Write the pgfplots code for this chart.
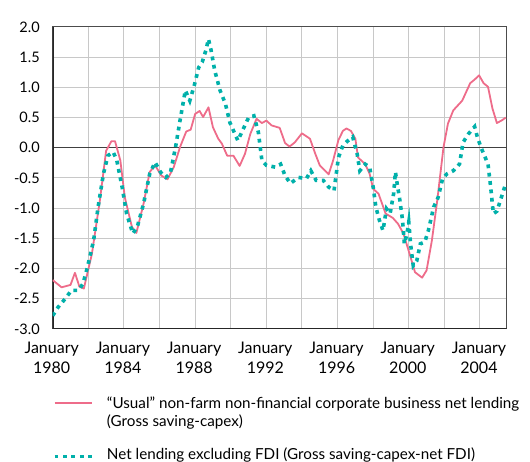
\documentclass[border=0pt]{standalone}
\usepackage{fontspec}
\setmainfont{Lato}
\usepackage{pgfplots}
\pgfplotsset{compat=1.18}
\definecolor{pinkc}{RGB}{238,108,138}
\definecolor{tealc}{RGB}{0,176,170}
\definecolor{gridc}{RGB}{200,200,200}
\pgfplotsset{
  pinkimg/.style={legend image code/.code={\draw[##1] (0pt,5.6pt) -- (37pt,5.6pt); \path[draw=none] (0pt,0pt) -- (52.3pt,0pt);}},
  tealimg/.style={legend image code/.code={\draw[##1] (0pt,3pt) -- (37pt,3pt); \path[draw=none] (0pt,0pt) -- (52.3pt,0pt);}},
}
\begin{document}
\fontsize{14.5}{17}\selectfont
\begin{tikzpicture}
\useasboundingbox (-52.7pt,-133pt) rectangle (477.3pt,329pt);
\begin{axis}[
  scale only axis, width=454pt, height=302pt,
  xmin=1980, xmax=2005.5, ymin=-3, ymax=2,
  xtick={1980,1982,...,2004},
  xticklabels={{January\\1980},,{January\\1984},,{January\\1988},,{January\\1992},,{January\\1996},,{January\\2000},,{January\\2004}},
  x tick label style={align=center, font=\fontsize{16}{20}\selectfont, yshift=-8pt, xshift=-1pt},
  ytick={-3,-2.5,...,2},
  y tick label style={/pgf/number format/fixed, /pgf/number format/fixed zerofill, /pgf/number format/precision=1, /pgf/number format/assume math mode=true, font=\fontsize{14.5}{17}\selectfont, xshift=-8pt},
  major tick length=0pt,
  grid=major,
  major grid style={draw=gridc, line width=1pt},
  axis line style={draw=black!70, line width=1pt},
  legend style={draw=none, fill=none, at={(0,0)}, anchor=north west, yshift=-66.3pt,
    inner sep=0pt, row sep=0pt, column sep=0pt, cells={anchor=base west},
    nodes={inner sep=0pt, text depth=},
    font=\fontsize{15.2}{18.4}\selectfont},
  pinkimg,
  clip=true,
]
\draw[black!75, line width=1.2pt] (axis cs:1980,0) -- (axis cs:2005.5,0);
\draw[black!85, line width=2pt] (rel axis cs:0,0) -- (rel axis cs:0,1);
\draw[black!85, line width=2pt] (rel axis cs:0,0) -- (rel axis cs:1,0);
\addplot[pinkc, line width=1.8pt, line join=round] coordinates {
(1980.0,-2.19) (1980.5,-2.31) (1981.0,-2.27) (1981.25,-2.07) (1981.5,-2.30) (1981.75,-2.33)
(1982.2,-1.76) (1982.65,-0.87) (1983.0,-0.05) (1983.3,0.11) (1983.5,0.11) (1983.8,-0.21)
(1984.05,-0.82) (1984.45,-1.31) (1984.7,-1.41) (1985.1,-0.93) (1985.45,-0.40) (1985.75,-0.29)
(1986.1,-0.46) (1986.45,-0.52) (1986.8,-0.32) (1987.15,0.01) (1987.5,0.27) (1987.75,0.30)
(1988.0,0.56) (1988.25,0.61) (1988.45,0.51) (1988.75,0.67) (1989.0,0.34) (1989.3,0.15)
(1989.5,0.07) (1989.8,-0.13) (1990.15,-0.13) (1990.5,-0.30) (1990.8,-0.10) (1991.1,0.23)
(1991.45,0.48) (1991.75,0.41) (1992.0,0.45) (1992.3,0.37) (1992.75,0.33) (1993.05,0.08)
(1993.3,0.02) (1993.6,0.09) (1994.0,0.24) (1994.45,0.15) (1994.75,-0.10) (1995.0,-0.29)
(1995.2,-0.35) (1995.5,-0.44) (1995.75,-0.21) (1996.05,0.13) (1996.3,0.28) (1996.5,0.32)
(1996.75,0.28) (1997.0,0.15) (1997.15,-0.16) (1997.55,-0.27) (1997.8,-0.43) (1998.0,-0.68)
(1998.3,-0.76) (1998.7,-1.09) (1999.1,-1.16) (1999.4,-1.26) (1999.7,-1.42) (2000.05,-1.76)
(2000.35,-2.06) (2000.75,-2.15) (2001.0,-2.03) (2001.3,-1.53) (2001.6,-0.87) (2001.95,0.01)
(2002.2,0.40) (2002.5,0.62) (2003.0,0.78) (2003.45,1.07) (2003.7,1.13) (2003.95,1.20)
(2004.2,1.07) (2004.45,1.01) (2004.7,0.65) (2004.95,0.41) (2005.2,0.45) (2005.45,0.50)
};
\addlegendentry{\rule[-4pt]{0pt}{17pt}``Usual'' non-farm non-financial corporate business net lending}
\addlegendimage{empty legend}
\addlegendentry{\rule[-19.6pt]{0pt}{34pt}(Gross saving-capex)}
\addplot[tealc, line width=3.6pt, dash pattern=on 3.8pt off 4.6pt, tealimg] coordinates {
(1980.0,-2.78) (1980.3,-2.64) (1980.7,-2.50) (1981.05,-2.36) (1981.45,-2.36) (1981.7,-2.25)
(1981.95,-1.98) (1982.3,-1.53) (1982.55,-0.98) (1982.85,-0.43) (1983.1,-0.13) (1983.4,-0.07)
(1983.6,-0.21) (1983.9,-0.65) (1984.15,-1.09) (1984.5,-1.42) (1984.75,-1.31) (1985.1,-0.93)
(1985.45,-0.43) (1985.75,-0.24) (1986.05,-0.40) (1986.35,-0.49) (1986.6,-0.43) (1986.9,0.01)
(1987.15,0.45) (1987.45,0.95) (1987.7,0.78) (1987.95,1.03) (1988.2,1.33) (1988.4,1.42)
(1988.6,1.61) (1988.75,1.80) (1988.9,1.61) (1989.1,1.28) (1989.4,0.95) (1989.7,0.73)
(1989.95,0.42) (1990.4,0.12) (1990.7,0.31) (1991.0,0.50) (1991.3,0.53) (1991.55,0.26)
(1991.75,-0.21) (1992.0,-0.29) (1992.5,-0.32) (1992.8,-0.27) (1993.05,-0.46) (1993.35,-0.59)
(1993.8,-0.49) (1994.25,-0.51) (1994.5,-0.38) (1994.8,-0.54) (1995.2,-0.54) (1995.5,-0.65)
(1995.8,-0.71) (1996.05,-0.16) (1996.3,0.04) (1996.55,0.11) (1996.85,0.18) (1997.1,-0.10)
(1997.25,-0.38) (1997.55,-0.27) (1997.8,-0.32) (1998.0,-0.65) (1998.15,-0.98) (1998.35,-1.20)
(1998.55,-1.37) (1998.75,-1.01) (1998.95,-1.09) (1999.15,-0.76) (1999.25,-0.40) (1999.35,-0.60)
(1999.5,-0.87) (1999.65,-1.20) (1999.75,-1.59) (1999.9,-1.42) (2000.0,-1.23) (2000.1,-1.59)
(2000.25,-1.95) (2000.45,-1.87) (2000.65,-1.59) (2000.9,-1.56) (2001.1,-1.37) (2001.4,-0.98)
(2001.65,-0.82) (2001.9,-0.51) (2002.15,-0.43) (2002.5,-0.38) (2002.85,-0.27) (2003.05,0.09)
(2003.35,0.23) (2003.7,0.35) (2003.85,0.18) (2004.05,0.01) (2004.25,-0.13) (2004.45,-0.27)
(2004.6,-0.65) (2004.75,-1.09) (2004.95,-1.05) (2005.2,-0.82) (2005.45,-0.59)
};
\addlegendentry{\rule[-3pt]{0pt}{16pt}Net lending excluding FDI (Gross saving-capex-net FDI)}
\end{axis}
\end{tikzpicture}
\end{document}
